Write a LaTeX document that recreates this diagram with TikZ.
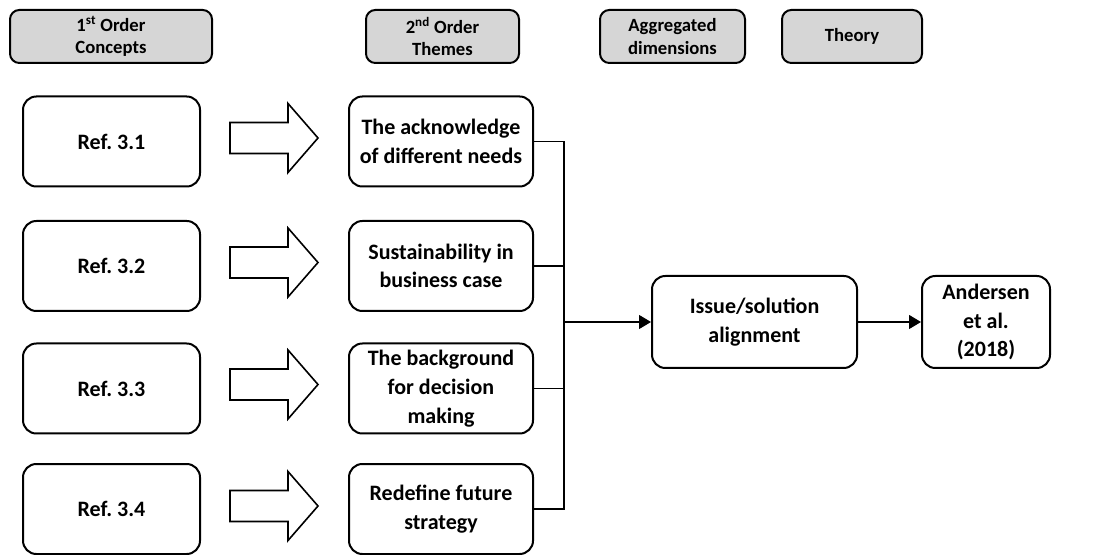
\documentclass[tikz,border=0pt]{standalone}
\usepackage{fontspec}
\setmainfont{Carlito}
\frenchspacing
\usetikzlibrary{arrows.meta}
\begin{document}
\begin{tikzpicture}[x=0.75pt,y=-0.75pt,
  hdr/.style={draw, line width=1.5pt, rounded corners=7pt, fill=gray!32,
    font=\bfseries\fontsize{14}{17}\selectfont, align=center, inner sep=0pt,
    minimum height=39.75pt},
  box/.style={draw, line width=1.5pt, rounded corners=10pt, fill=white,
    font=\bfseries\fontsize{16.5}{21.5}\selectfont, align=center, inner sep=0pt,
    minimum height=67.5pt},
  link/.style={line width=0.8pt},
  arr/.style={link, -{Triangle[length=9pt,width=10.5pt]}},
  blk/.style={draw, line width=1.2pt, fill=white, line join=miter}]
  \useasboundingbox (0,0) rectangle (1095,555);

  % column headers
  \node[hdr, minimum width=151.5pt] (h1) at (111,36.5) {1\textsuperscript{st} Order\\Concepts};
  \node[hdr, minimum width=114.75pt] (h2) at (442.5,36.5) {2\textsuperscript{nd} Order\\Themes};
  \node[hdr, minimum width=108.75pt] (h3) at (672.5,36.5) {Aggregated\\dimensions};
  \node[hdr, minimum width=105pt] (h4) at (852,36.5) {Theory};

  % first order concepts
  \node[box, minimum width=132.75pt] (r1) at (111.5,141.5) {Ref. 3.1};
  \node[box, minimum width=132.75pt] (r2) at (111.5,266) {Ref. 3.2};
  \node[box, minimum width=132.75pt] (r3) at (111.5,388.5) {Ref. 3.3};
  \node[box, minimum width=132.75pt] (r4) at (111.5,509) {Ref. 3.4};

  % second order themes
  \node[box, minimum width=138pt] (t1) at (441,141.5) {The acknowledge\\of different needs};
  \node[box, minimum width=138pt] (t2) at (441,266) {Sustainability in\\business case};
  \node[box, minimum width=138pt] (t3) at (441,388.5) {The background\\for decision\\making};
  \node[box, minimum width=138pt] (t4) at (441,509) {Redefine future\\strategy};

  % block arrows between the two columns
  \foreach \c in {138,262.5,384.5,506} {
    \draw[blk] (230,\c-15.5) -- (288,\c-15.5) -- (288,\c-34.5) -- (318,\c)
      -- (288,\c+34.5) -- (288,\c+15.5) -- (230,\c+15.5) -- cycle;
  }

  % aggregated dimension and theory
  \node[box, minimum width=153.75pt, minimum height=69pt] (iss) at (754.5,322) {Issue/solution\\alignment};
  \node[box, minimum width=96pt, minimum height=69pt] (and) at (986,322) {Andersen\\et al.\\(2018)};

  % bus joining the themes
  \coordinate (bus) at (564,322);
  \draw[link] (t1.east) -- (t1.east -| bus) -- (t4.east -| bus) -- (t4.east);
  \draw[link] (t2.east) -- (t2.east -| bus);
  \draw[link] (t3.east) -- (t3.east -| bus);
  \draw[arr] (bus) -- (iss.west);
  \draw[arr] (iss.east) -- (and.west);
\end{tikzpicture}
\end{document}
